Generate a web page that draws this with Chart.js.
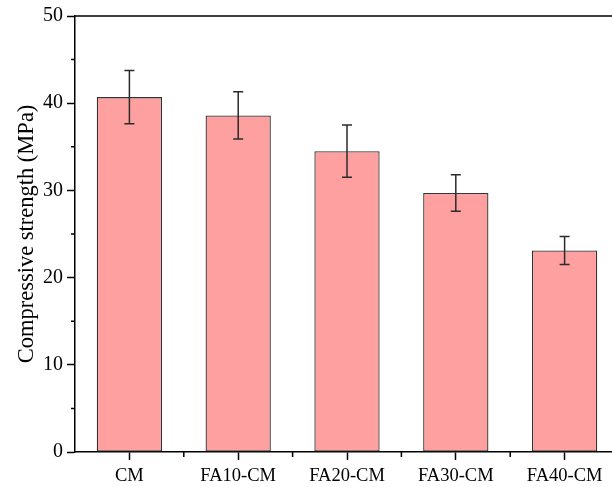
<!DOCTYPE html>
<html>
<head>
<meta charset="utf-8">
<script src="https://cdn.jsdelivr.net/npm/chart.js@4/dist/chart.umd.min.js"></script>
<style>
  html, body { margin: 0; padding: 0; background: #ffffff; overflow: hidden; }
  #wrap { width: 630px; height: 487px; position: relative; }
</style>
</head>
<body>
<div id="wrap"><canvas id="c"></canvas></div>
<script>
// Mortar mixes and their compressive strength (mean and standard deviation, MPa)
const categories = ['CM', 'FA10-CM', 'FA20-CM', 'FA30-CM', 'FA40-CM'];
const strength = [40.7, 38.6, 34.5, 29.7, 23.1];
const strengthError = [3.05, 2.7, 3.0, 2.1, 1.6];
const yTicks = [0, 10, 20, 30, 40, 50];

const serif = '"Liberation Serif", "Times New Roman", serif';

// Error bars, minor ticks and the top frame line
const extras = {
  id: 'extras',
  afterDatasetsDraw(chart) {
    const ctx = chart.ctx;
    const ys = chart.scales.y;
    const xs = chart.scales.x;
    const area = chart.chartArea;
    const meta = chart.getDatasetMeta(0);
    ctx.save();
    ctx.strokeStyle = '#2b2b2b';
    ctx.lineWidth = 1.5;
    meta.data.forEach((bar, i) => {
      const x = bar.x;
      const yt = ys.getPixelForValue(strength[i] + strengthError[i]);
      const yb = ys.getPixelForValue(strength[i] - strengthError[i]);
      ctx.beginPath();
      ctx.moveTo(x, yt); ctx.lineTo(x, yb);
      ctx.moveTo(x - 5, yt); ctx.lineTo(x + 5, yt);
      ctx.moveTo(x - 5, yb); ctx.lineTo(x + 5, yb);
      ctx.stroke();
    });
    ctx.restore();

    ctx.save();
    ctx.strokeStyle = '#000';
    ctx.lineWidth = 1.5;
    ctx.beginPath();
    // minor y ticks at the halfway values
    for (let k = 0; k < yTicks.length - 1; k++) {
      const py = ys.getPixelForValue((yTicks[k] + yTicks[k + 1]) / 2);
      ctx.moveTo(area.left - 4, py); ctx.lineTo(area.left, py);
    }
    // minor x ticks between categories
    for (let i = 0; i < categories.length - 1; i++) {
      const px = (xs.getPixelForValue(i) + xs.getPixelForValue(i + 1)) / 2;
      ctx.moveTo(px, area.bottom); ctx.lineTo(px, area.bottom + 5);
    }
    // top frame line
    ctx.moveTo(area.left, area.top); ctx.lineTo(chart.width, area.top);
    ctx.stroke();
    ctx.restore();
  }
};

new Chart(document.getElementById('c'), {
  type: 'bar',
  data: {
    labels: categories,
    datasets: [{
      data: strength,
      backgroundColor: '#FFA0A0',
      borderColor: '#333333',
      borderWidth: 1.3,
      borderSkipped: false,
      barPercentage: 0.6,
      categoryPercentage: 1.0
    }]
  },
  options: {
    responsive: true,
    maintainAspectRatio: false,
    animation: false,
    layout: { padding: { top: 16, right: 11, left: 0, bottom: 0 } },
    plugins: { legend: { display: false }, tooltip: { enabled: false } },
    scales: {
      x: {
        offset: true,
        grid: { display: true, drawOnChartArea: false, offset: false, tickLength: 8, tickWidth: 1.5, tickColor: '#000' },
        border: { display: true, color: '#000', width: 1.5 },
        ticks: { color: '#000', font: { family: serif, size: 18.5 }, padding: 5, maxRotation: 0 },
        afterFit(s) { s.height = 35; }
      },
      y: {
        min: 0, max: 50,
        afterBuildTicks(s) { s.ticks = yTicks.map(v => ({ value: v })); },
        grid: { display: true, drawOnChartArea: false, tickLength: 8, tickWidth: 1.5, tickColor: '#000' },
        border: { display: true, color: '#000', width: 1.5 },
        ticks: { color: '#000', font: { family: serif, size: 20 }, padding: 4 },
        title: { display: true, text: 'Compressive strength (MPa)', color: '#000', font: { family: serif, size: 22.5 }, padding: { top: 14, bottom: 2 } },
        afterFit(s) { s.width = 75; }
      }
    }
  },
  plugins: [extras]
});
</script>
</body>
</html>
